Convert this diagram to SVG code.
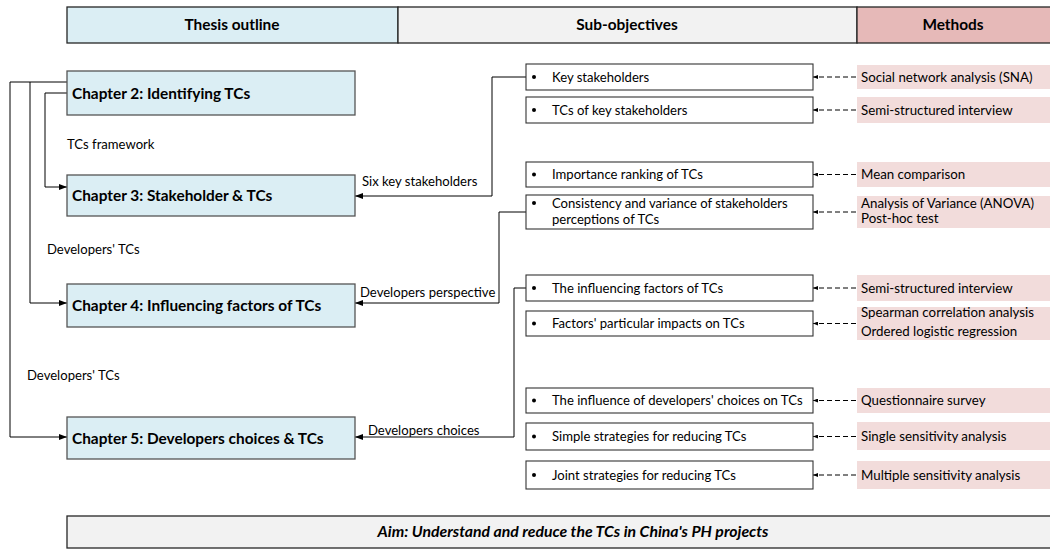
<svg xmlns="http://www.w3.org/2000/svg" width="1050" height="552" viewBox="0 0 1050 552">
  <style>
    text { font-family: Lato, "Liberation Sans", sans-serif; fill: #000; }
    .hdr { font-size: 15.4px; font-weight: bold; text-anchor: middle; }
    .chap { font-size: 15.4px; font-weight: bold; }
    .lbl { font-size: 13.1px; }
    .sub { font-size: 13.1px; }
    .meth { font-size: 13.3px; }
    .aim { font-size: 15.8px; font-weight: bold; font-style: italic; text-anchor: middle; }
    .hbox { stroke: #262626; stroke-width: 1.3; }
    .cbox { fill: #DBEEF4; stroke: #555; stroke-width: 1.3; }
    .sbox { fill: #fff; stroke: #333; stroke-width: 1.1; }
    .mbox { fill: #F2DCDB; stroke: none; }
    .conn { fill: none; stroke: #000; stroke-width: 1; }
    .dash { fill: none; stroke: #000; stroke-width: 1; stroke-dasharray: 5 3; }
  </style>
  <defs>
    <marker id="arr" markerWidth="8" markerHeight="6" refX="8" refY="3" orient="auto" markerUnits="userSpaceOnUse">
      <path d="M0,0 L8,3 L0,6 Z" fill="#000"/>
    </marker>
    <marker id="arrs" markerWidth="5" markerHeight="4" refX="5" refY="2" orient="auto" markerUnits="userSpaceOnUse">
      <path d="M0,0 L5,2 L0,4 Z" fill="#000"/>
    </marker>
  </defs>

  <!-- column headers -->
  <g id="header">
    <rect class="hbox" x="67" y="7" width="331" height="36" fill="#DBEEF4"/>
    <rect class="hbox" x="398" y="7" width="459" height="36" fill="#F2F2F2"/>
    <rect class="hbox" x="857" y="7" width="196" height="36" fill="#E6B9B8"/>
    <text class="hdr" x="232" y="30">Thesis outline</text>
    <text class="hdr" x="627" y="30">Sub-objectives</text>
    <text class="hdr" x="953" y="30">Methods</text>
  </g>

  <!-- connectors -->
  <g id="connectors">
    <path class="conn" d="M67,93 H45 V187 H67" marker-end="url(#arr)"/>
    <path class="conn" d="M67,82 H30 V303 H67" marker-end="url(#arr)"/>
    <path class="conn" d="M30,82 H10 V437 H67" marker-end="url(#arr)"/>
    <path class="conn" d="M526,77 H492 V196 H355" marker-end="url(#arr)"/>
    <path class="conn" d="M526,212 H499 V303 H355" marker-end="url(#arr)"/>
    <path class="conn" d="M526,288 H514 V437 H355" marker-end="url(#arr)"/>
    <path class="dash" d="M856,77 H813" marker-end="url(#arrs)"/>
    <path class="dash" d="M856,110 H813" marker-end="url(#arrs)"/>
    <path class="dash" d="M856,174.5 H813" marker-end="url(#arrs)"/>
    <path class="dash" d="M856,212 H813" marker-end="url(#arrs)"/>
    <path class="dash" d="M856,288 H813" marker-end="url(#arrs)"/>
    <path class="dash" d="M856,323.5 H813" marker-end="url(#arrs)"/>
    <path class="dash" d="M856,400.5 H813" marker-end="url(#arrs)"/>
    <path class="dash" d="M856,436.5 H813" marker-end="url(#arrs)"/>
    <path class="dash" d="M856,475 H813" marker-end="url(#arrs)"/>
    <text class="lbl" x="67" y="149">TCs framework</text>
    <text class="lbl" x="47" y="254">Developers' TCs</text>
    <text class="lbl" x="27" y="380">Developers' TCs</text>
    <text class="lbl" x="362" y="186">Six key stakeholders</text>
    <text class="lbl" x="360" y="297">Developers perspective</text>
    <text class="lbl" x="368" y="435">Developers choices</text>
  </g>

  <!-- chapters -->
  <g id="ch2"><rect class="cbox" x="67" y="71" width="288" height="44"/><text class="chap" x="72" y="98.5">Chapter 2: Identifying TCs</text></g>
  <g id="ch3"><rect class="cbox" x="67" y="175" width="288" height="41"/><text class="chap" x="72" y="201">Chapter 3: Stakeholder &amp; TCs</text></g>
  <g id="ch4"><rect class="cbox" x="67" y="284" width="288" height="43"/><text class="chap" x="72" y="311">Chapter 4: Influencing factors of TCs</text></g>
  <g id="ch5"><rect class="cbox" x="67" y="417" width="288" height="42"/><text class="chap" x="72" y="443.5">Chapter 5: Developers choices &amp; TCs</text></g>

  <!-- sub-objectives -->
  <g id="so1"><rect class="sbox" x="526" y="64" width="287" height="26"/><circle cx="534" cy="77" r="2"/><text class="sub" x="552" y="81.5">Key stakeholders</text></g>
  <g id="so2"><rect class="sbox" x="526" y="97" width="287" height="26"/><circle cx="534" cy="110" r="2"/><text class="sub" x="552" y="114.5">TCs of key stakeholders</text></g>
  <g id="so3"><rect class="sbox" x="526" y="162" width="287" height="25"/><circle cx="534" cy="174.5" r="2"/><text class="sub" x="552" y="179">Importance ranking of TCs</text></g>
  <g id="so4"><rect class="sbox" x="526" y="195" width="287" height="34"/><circle cx="534" cy="203" r="2"/><text class="sub" x="552" y="207.5">Consistency and variance of stakeholders</text><text class="sub" x="552" y="224">perceptions of TCs</text></g>
  <g id="so5"><rect class="sbox" x="526" y="275" width="287" height="26"/><circle cx="534" cy="288" r="2"/><text class="sub" x="552" y="292.5">The influencing factors of TCs</text></g>
  <g id="so6"><rect class="sbox" x="526" y="311" width="287" height="25"/><circle cx="534" cy="323.5" r="2"/><text class="sub" x="552" y="328">Factors' particular impacts on TCs</text></g>
  <g id="so7"><rect class="sbox" x="526" y="388" width="287" height="25"/><circle cx="534" cy="400.5" r="2"/><text class="sub" x="552" y="405">The influence of developers' choices on TCs</text></g>
  <g id="so8"><rect class="sbox" x="526" y="423" width="287" height="27"/><circle cx="534" cy="436.5" r="2"/><text class="sub" x="552" y="441">Simple strategies for reducing TCs</text></g>
  <g id="so9"><rect class="sbox" x="526" y="461" width="287" height="28"/><circle cx="534" cy="475" r="2"/><text class="sub" x="552" y="479.5">Joint strategies for reducing TCs</text></g>

  <!-- methods -->
  <g id="m1"><rect class="mbox" x="857" y="65" width="193" height="24"/><text class="meth" x="861" y="81.5">Social network analysis (SNA)</text></g>
  <g id="m2"><rect class="mbox" x="857" y="97" width="193" height="26"/><text class="meth" x="861" y="114.5">Semi-structured interview</text></g>
  <g id="m3"><rect class="mbox" x="857" y="162" width="193" height="25"/><text class="meth" x="861" y="179">Mean comparison</text></g>
  <g id="m4"><rect class="mbox" x="857" y="196" width="193" height="32"/><text class="meth" x="861" y="207.5">Analysis of Variance (ANOVA)</text><text class="meth" x="861" y="222.5">Post-hoc test</text></g>
  <g id="m5"><rect class="mbox" x="857" y="275" width="193" height="26"/><text class="meth" x="861" y="292.5">Semi-structured interview</text></g>
  <g id="m6"><rect class="mbox" x="857" y="307" width="193" height="33"/><text class="meth" x="861" y="316.5">Spearman correlation analysis</text><text class="meth" x="861" y="335.5">Ordered logistic regression</text></g>
  <g id="m7"><rect class="mbox" x="857" y="388" width="193" height="25"/><text class="meth" x="861" y="405">Questionnaire survey</text></g>
  <g id="m8"><rect class="mbox" x="857" y="422" width="193" height="28"/><text class="meth" x="861" y="441">Single sensitivity analysis</text></g>
  <g id="m9"><rect class="mbox" x="857" y="461" width="193" height="28"/><text class="meth" x="861" y="479.5">Multiple sensitivity analysis</text></g>

  <!-- overall aim -->
  <g id="aim">
    <rect class="hbox" x="67" y="516" width="986" height="32" fill="#F2F2F2"/>
    <text class="aim" x="573" y="537">Aim: Understand and reduce the TCs in China's PH projects</text>
  </g>
</svg>
